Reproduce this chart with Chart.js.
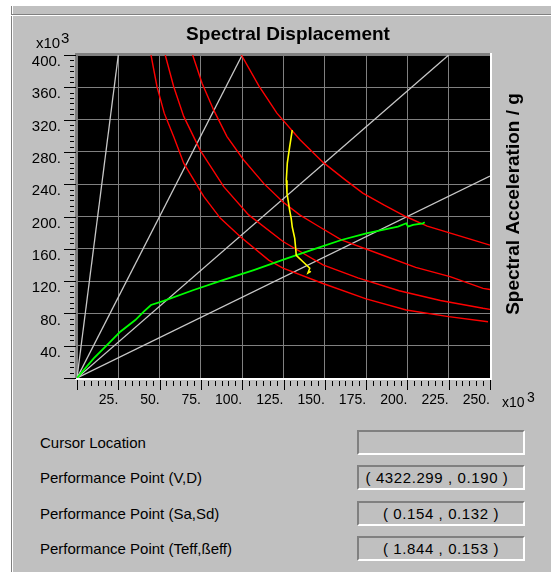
<!DOCTYPE html>
<html>
<head>
<meta charset="utf-8">
<script src="https://cdn.jsdelivr.net/npm/chart.js@4.4.0/dist/chart.umd.min.js"></script>
<style>
  html, body { margin: 0; padding: 0; background: #fff; }
  body { width: 551px; height: 572px; position: relative; overflow: hidden; font-family: "Liberation Sans", Arial, sans-serif; }
  #panel { position: absolute; left: 11px; top: 6px; width: 560px; height: 580px; background: #c0c0c0; border-left: 1px solid #808080; box-shadow: inset 1px 0 #fff; }
  #rule { position: absolute; left: 11px; top: 14px; width: 540px; height: 1px; background: #808080; border-bottom: 1px solid #fff; }
  #supplyChart { position: absolute; left: 0; top: 0; }
  .lbl { position: absolute; left: 40px; font-size: 15px; line-height: 18px; color: #000; }
  .box { position: absolute; left: 357px; width: 164px; height: 21px; border-top: 2px solid #808080; border-left: 2px solid #808080; border-right: 2px solid #fff; border-bottom: 2px solid #fff; font-size: 15px; line-height: 21px; text-align: center; letter-spacing: 0.6px; color: #000; }
</style>
</head>
<body>
<div id="panel"></div>
<div id="rule"></div>
<canvas id="supplyChart" width="551" height="420"></canvas>

<div class="lbl" style="top:434px">Cursor Location</div>
<div class="box" style="top:430px"></div>
<div class="lbl" style="top:469px">Performance Point (V,D)</div>
<div class="box" style="top:465px; padding-right:8px; width:156px">( 4322.299 , 0.190 )</div>
<div class="lbl" style="top:505px">Performance Point (Sa,Sd)</div>
<div class="box" style="top:501px">( 0.154 , 0.132 )</div>
<div class="lbl" style="top:540px">Performance Point (Teff,ßeff)</div>
<div class="box" style="top:536px">( 1.844 , 0.153 )</div>

<script>
// axis ticks (x10^3)
const xTickValues = [0, 25, 50, 75, 100, 125, 150, 175, 200, 225, 250];
const yTickValues = [0, 40, 80, 120, 160, 200, 240, 280, 320, 360, 400];

// constant period lines, each one runs from the origin to this end point [Sd, Sa]
const periodLineEnds = [[25, 400], [100, 400], [225, 400], [250, 250]];

// demand spectra [Sd, Sa]
const spectrumA = [[99.5, 400], [110, 362], [121, 328], [135, 295], [149, 267], [162, 246], [173, 229], [186, 214], [199, 200], [212, 188], [226, 179.5], [238, 172], [250, 164.5]];
const spectrumB = [[70, 400], [75.7, 365], [82.7, 332], [90.8, 299], [100.9, 270], [113, 241], [124.7, 218], [134.8, 202], [144.9, 189.5], [160, 171], [185.2, 152], [205, 137], [225.8, 125.5], [245.8, 111], [250, 109.5]];
const spectrumC = [[53.4, 400], [58.5, 361], [64.6, 324], [74.6, 282], [88.8, 237], [103.9, 202], [124.7, 169], [148.9, 140], [170, 124], [195, 108], [220, 96], [245.8, 86.3], [250, 85]];
const spectrumD = [[44.8, 400], [48.4, 361], [52.8, 328], [58.5, 299], [64.6, 266], [69.6, 249], [76.7, 225], [86.7, 198], [98.9, 175], [116, 146], [124.7, 136], [148.9, 117], [175, 98], [199.3, 84.2], [225, 76], [248.8, 69.7]];

// capacity curve (green) and single demand locus (yellow)
const capacityCurve = [[0, 0], [10.1, 24.4], [19.2, 43], [26.2, 57.3], [35.3, 71.8], [40.4, 82.1], [44.8, 90.4], [52.5, 95.4], [70.6, 109], [88.8, 121.4], [107, 133.7], [127.1, 148.2], [144.9, 160.6], [160, 170.9], [175.1, 179.2], [194.3, 187.4], [199.3, 191.6], [200.4, 187.4], [203.4, 189.5], [209.4, 191.6], [210.5, 192.8]];
const demandLocus = [[130.3, 307], [128.7, 286], [127.3, 266], [126.7, 245], [127.1, 229], [128.7, 208], [129.7, 197], [130.3, 187], [131.8, 173], [132.4, 160], [132.7, 152], [136.8, 144], [140.9, 136], [139.8, 130], [141.6, 132]];

const FONT = '"Liberation Sans", Arial, sans-serif';
const toPts = arr => arr.map(p => ({ x: p[0], y: p[1] }));

function line(data, color, width) {
    return { data: toPts(data), borderColor: color, borderWidth: width, showLine: true, pointRadius: 0, tension: 0, fill: false };
}

// panel decorations: black plot, sunken frame, minor ticks, titles
const framePlugin = {
    id: 'frame',
    beforeDraw(chart) {
        const a = chart.chartArea, ctx = chart.ctx;
        ctx.save();
        ctx.fillStyle = '#000';
        ctx.fillRect(a.left, a.top, a.right - a.left, a.bottom - a.top);
        ctx.restore();
    },
    afterDraw(chart) {
        const a = chart.chartArea, ctx = chart.ctx;
        const xs = chart.scales.x, ys = chart.scales.y;
        ctx.save();
        ctx.fillStyle = '#808080';
        ctx.fillRect(a.left - 2, a.top - 2, a.right - a.left + 4, 2);
        ctx.fillRect(a.left - 2, a.top - 2, 2, a.bottom - a.top + 2);
        ctx.fillStyle = '#fff';
        ctx.fillRect(a.left - 2, a.bottom, a.right - a.left + 4, 2);
        ctx.fillRect(a.right, a.top - 2, 2, a.bottom - a.top + 4);

        // 6 subdivisions per major step on both axes
        ctx.fillStyle = '#000';
        for (let k = 0; k <= 60; k++) {
            const px = Math.round(xs.getPixelForValue(k * 25 / 6));
            if (k % 6 === 0) ctx.fillRect(px, a.bottom + 2, 1, 10);
            else ctx.fillRect(px, a.bottom + 3, 1, 5);
            const py = Math.round(ys.getPixelForValue(k * 40 / 6));
            if (k % 6 === 0) ctx.fillRect(a.left - 13, py, 12, 1);
            else ctx.fillRect(a.left - 7, py, 4, 1);
        }

        ctx.fillStyle = '#000';
        ctx.font = 'bold 19px ' + FONT;
        ctx.textAlign = 'center';
        ctx.textBaseline = 'alphabetic';
        ctx.fillText('Spectral Displacement', 288, 40);

        ctx.save();
        ctx.translate(519, 204);
        ctx.rotate(-Math.PI / 2);
        ctx.fillText('Spectral Acceleration / g', 0, 0);
        ctx.restore();

        ctx.font = '15px ' + FONT;
        ctx.textAlign = 'left';
        ctx.fillText('x10', 36, 48);
        ctx.fillText('3', 61, 43);
        ctx.font = '14px ' + FONT;
        ctx.fillText('x10', 502, 407);
        ctx.fillText('3', 527, 402);
        ctx.restore();
    }
};

document.addEventListener('DOMContentLoaded', () => {
    const ctx = document.getElementById('supplyChart');

    const datasets = [
        line(demandLocus, '#ffff00', 1.6),
        line(capacityCurve, '#00ff00', 1.8),
        line(spectrumA, '#ff0000', 1.4),
        line(spectrumB, '#ff0000', 1.4),
        line(spectrumC, '#ff0000', 1.4),
        line(spectrumD, '#ff0000', 1.4)
    ];
    periodLineEnds.forEach(e => datasets.push(line([[0, 0], e], '#c8c8c8', 1.3)));

    new Chart(ctx, {
        type: 'scatter',
        data: { datasets: datasets },
        options: {
            responsive: false,
            animation: false,
            layout: { padding: { left: 0, top: 55, right: 61, bottom: 0 } },
            plugins: {
                legend: { display: false },
                tooltip: { enabled: false }
            },
            scales: {
                x: {
                    type: 'linear',
                    min: 0,
                    max: 250,
                    afterFit: s => { s.height = 42; },
                    afterBuildTicks: s => { s.ticks = xTickValues.map(v => ({ value: v })); },
                    grid: { color: '#808080', drawTicks: false },
                    border: { display: false },
                    ticks: {
                        align: 'end',
                        padding: 14,
                        autoSkip: false,
                        maxRotation: 0,
                        color: '#000',
                        font: { family: FONT, size: 14 },
                        callback: v => v === 0 ? '' : v + '.'
                    }
                },
                y: {
                    type: 'linear',
                    min: 0,
                    max: 400,
                    afterFit: s => { s.width = 77; },
                    afterBuildTicks: s => { s.ticks = yTickValues.map(v => ({ value: v })); },
                    grid: { color: '#808080', drawTicks: false },
                    border: { display: false },
                    ticks: {
                        padding: 16,
                        labelOffset: 7,
                        autoSkip: false,
                        color: '#000',
                        font: { family: FONT, size: 15 },
                        callback: v => v === 0 ? '' : v + '.'
                    }
                }
            }
        },
        plugins: [framePlugin]
    });
});
</script>
</body>
</html>
